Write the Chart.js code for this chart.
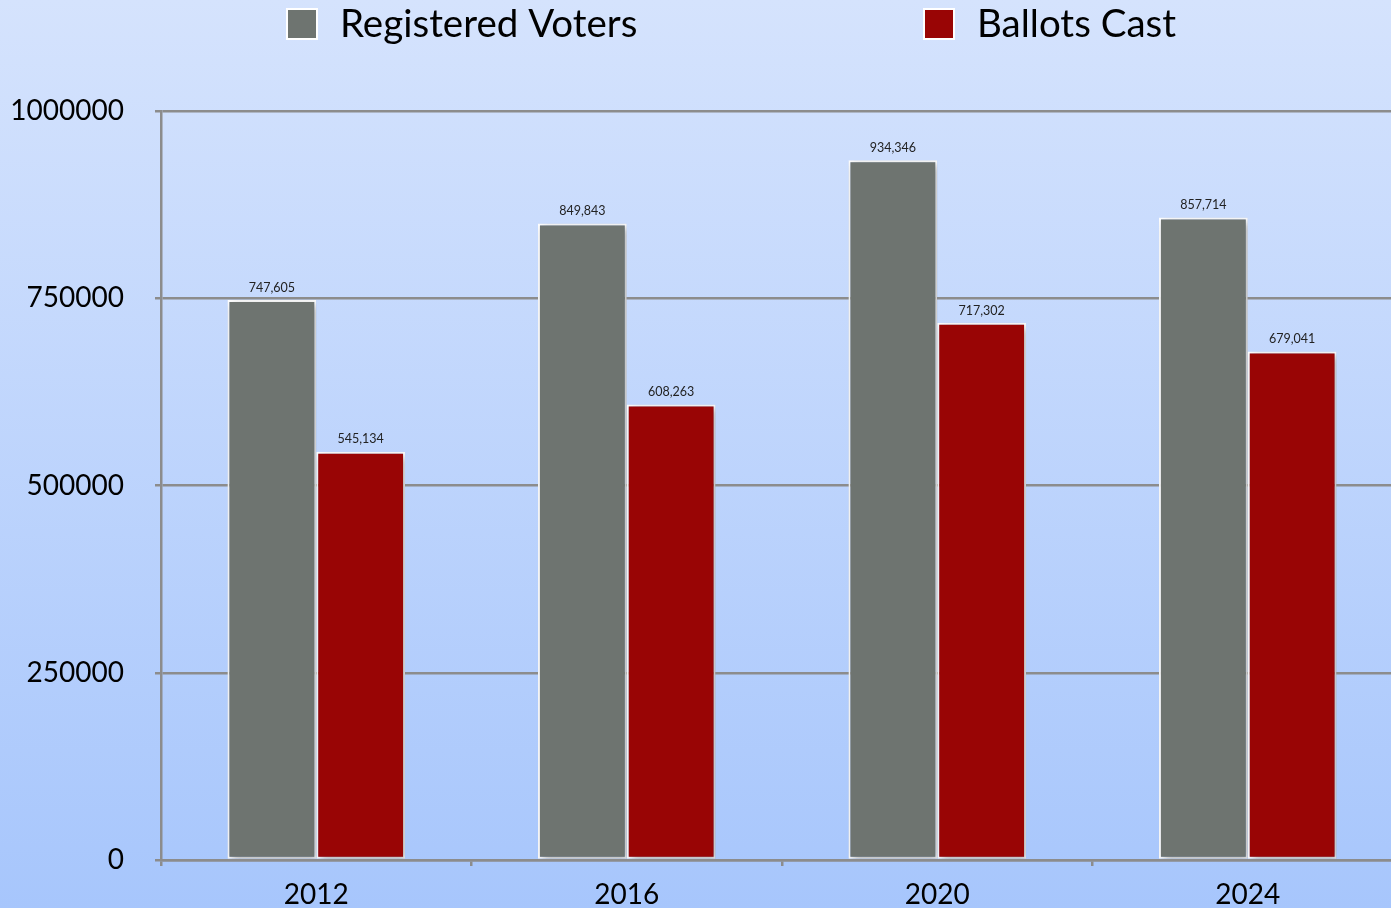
<!DOCTYPE html>
<html>
<head>
<meta charset="utf-8">
<script src="https://cdn.jsdelivr.net/npm/chart.js@4"></script>
<style>
  html, body { margin: 0; padding: 0; overflow: hidden; }
  body { width: 1391px; height: 908px; background: linear-gradient(to bottom, #D5E3FD 0%, #A7C6FC 100%); }
  #wrap { position: relative; width: 1409px; height: 908px; }
</style>
</head>
<body>
<div id="wrap"><canvas id="c"></canvas></div>
<script>
const categories = ['2012', '2016', '2020', '2024'];
const registeredVoters = [747605, 849843, 934346, 857714];
const ballotsCast = [545134, 608263, 717302, 679041];
const seriesNames = ['Registered Voters', 'Ballots Cast'];
const yTicks = [0, 250000, 500000, 750000, 1000000];

const GRID = '#8C8C8C';

const shadowPlugin = {
  id: 'barShadow',
  beforeDatasetDraw(chart) {
    const ctx = chart.ctx;
    ctx.save();
    ctx.shadowColor = 'rgba(0,0,0,0.3)';
    ctx.shadowBlur = 8;
    ctx.shadowOffsetX = 3;
    ctx.shadowOffsetY = 3;
  },
  afterDatasetDraw(chart) {
    chart.ctx.restore();
  }
};

const valueLabelPlugin = {
  id: 'valueLabels',
  afterDatasetsDraw(chart) {
    const ctx = chart.ctx;
    ctx.save();
    ctx.font = '12.5px Lato, "Open Sans", sans-serif';
    ctx.fillStyle = '#222222';
    ctx.textAlign = 'center';
    ctx.textBaseline = 'bottom';
    chart.data.datasets.forEach((ds, di) => {
      chart.getDatasetMeta(di).data.forEach((bar, i) => {
        ctx.fillText(ds.data[i].toLocaleString('en-US'), bar.x, bar.y - 6);
      });
    });
    ctx.restore();
  }
};

const legendPlugin = {
  id: 'customLegend',
  afterDraw(chart) {
    const ctx = chart.ctx;
    ctx.save();
    ctx.font = '38.5px Lato, "Open Sans", sans-serif';
    ctx.textBaseline = 'middle';
    ctx.textAlign = 'left';
    const starts = [287, 924];
    chart.data.datasets.forEach((ds, i) => {
      const x = starts[i];
      const y = 24;
      ctx.fillStyle = '#FFFFFF';
      ctx.fillRect(x - 1, y - 16, 32, 32);
      ctx.fillStyle = ds.backgroundColor;
      ctx.fillRect(x + 1, y - 14, 28, 28);
      ctx.fillStyle = '#000000';
      ctx.fillText(ds.label, x + 53, y + 1);
    });
    ctx.restore();
  }
};

new Chart(document.getElementById('c'), {
  type: 'bar',
  data: {
    labels: categories,
    datasets: [
      { label: seriesNames[0], data: registeredVoters, backgroundColor: '#6E7470', borderColor: '#FFFFFF', borderWidth: 2, borderSkipped: false },
      { label: seriesNames[1], data: ballotsCast, backgroundColor: '#990505', borderColor: '#FFFFFF', borderWidth: 2, borderSkipped: false }
    ]
  },
  options: {
    responsive: true,
    maintainAspectRatio: false,
    animation: false,
    layout: { padding: { top: 111, left: 0, right: 6, bottom: 0 } },
    plugins: {
      legend: { display: false },
      tooltip: { enabled: false }
    },
    datasets: { bar: { categoryPercentage: 0.572, barPercentage: 1.0 } },
    scales: {
      x: {
        offset: true,
        grid: { display: true, drawOnChartArea: false, drawTicks: true, tickLength: 6, color: GRID, lineWidth: 2.5, offset: true },
        border: { display: true, color: GRID, width: 2.5 },
        ticks: { color: '#000000', font: { family: 'Lato, "Open Sans", sans-serif', size: 28 }, padding: 12 },
        afterFit(s) { s.height = 48; }
      },
      y: {
        min: 0, max: 1000000,
        afterBuildTicks(s) { s.ticks = yTicks.map(v => ({ value: v })); },
        grid: { color: GRID, lineWidth: 2.5, drawTicks: true, tickLength: 6 },
        border: { display: true, color: GRID, width: 2.5 },
        ticks: { color: '#000000', font: { family: 'Lato, "Open Sans", sans-serif', size: 28 }, padding: 31, callback: v => String(v) },
        afterFit(s) { s.width = 161; }
      }
    }
  },
  plugins: [shadowPlugin, valueLabelPlugin, legendPlugin]
});
</script>
</body>
</html>
